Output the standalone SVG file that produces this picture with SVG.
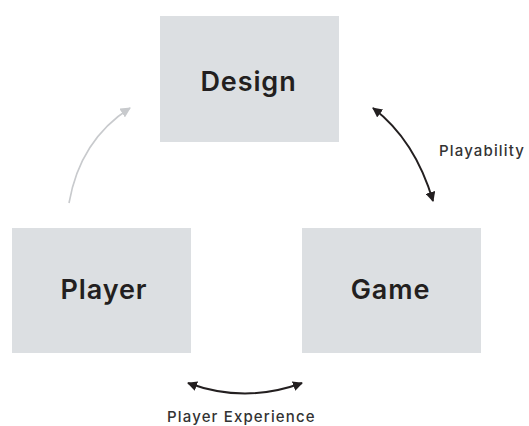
<svg xmlns="http://www.w3.org/2000/svg" width="529" height="426" viewBox="0 0 529 426">
<style>
.box{fill:#dcdfe2}
.lbl{font-family:Inter,"Liberation Sans",sans-serif;font-weight:600;font-size:27px;letter-spacing:0.9px;fill:#231f20;text-anchor:middle}
.sm{font-family:Inter,"Liberation Sans",sans-serif;font-weight:500;font-size:15px;letter-spacing:1.15px;fill:#333333}
.dk{fill:none;stroke:#231f20;stroke-width:2}
.gr{fill:none;stroke:#c8cacd;stroke-width:1.6}
</style>
<defs>
<marker id="ad" viewBox="0 0 10 10" refX="9" refY="5" markerWidth="5" markerHeight="5" orient="auto-start-reverse" markerUnits="strokeWidth"><path d="M0,0 L10,5 L0,10 z" fill="#231f20"/></marker>
<marker id="ag" viewBox="0 0 10 10" refX="9" refY="5" markerWidth="6.5" markerHeight="6.5" orient="auto" markerUnits="strokeWidth"><path d="M0,0 L10,5 L0,10 z" fill="#c8cacd"/></marker>
</defs>
<rect width="529" height="426" fill="#ffffff"/>
<g id="design"><rect class="box" x="160" y="16" width="179" height="126"/><text class="lbl" x="248.5" y="91">Design</text></g>
<g id="player"><rect class="box" x="12" y="228" width="179" height="125"/><text class="lbl" x="104" y="299">Player</text></g>
<g id="game"><rect class="box" x="302" y="228" width="179" height="125"/><text class="lbl" x="390.5" y="299">Game</text></g>
<g id="connectors">
<path class="dk" d="M373,108 Q415,140 433,201" marker-start="url(#ad)" marker-end="url(#ad)"/>
<path class="gr" d="M69,203 Q80,140 130,108" marker-end="url(#ag)"/>
<path class="dk" d="M188,383 Q245,404 302,383" marker-start="url(#ad)" marker-end="url(#ad)"/>
</g>
<text class="sm" x="439" y="156">Playability</text>
<text class="sm" x="167" y="422">Player Experience</text>
</svg>
